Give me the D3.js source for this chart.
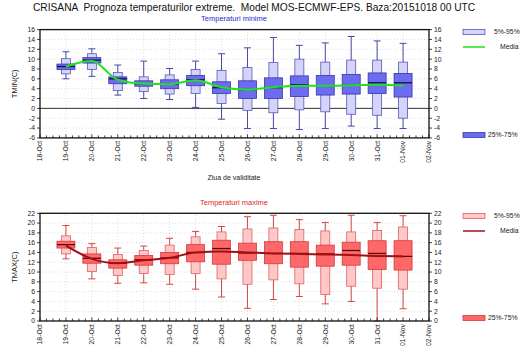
<!DOCTYPE html>
<html lang="en">
<head>
  <meta charset="UTF-8">
  <title>CRISANA</title>
  <style>
    body { margin: 0; background: #fff; }
    text { font-family: "Liberation Sans", Arial, sans-serif; }
  </style>
</head>
<body>
  <script src="https://d3js.org/d3.v7.min.js"></script>
  <script>

    const days = ['18-Oct', '19-Oct', '20-Oct', '21-Oct', '22-Oct', '23-Oct', '24-Oct', '25-Oct',
      '26-Oct', '27-Oct', '28-Oct', '29-Oct', '30-Oct', '31-Oct', '01-Nov', '02-Nov']
    const boxDays = [1, 2, 3, 4, 5, 6, 7, 8, 9, 10, 11, 12, 13, 14]

    // TMIN
    const tminLo  = [6.0, 6.5, 2.7, 2.0, 1.8, 0.2, -2.2, -4.1, -4.1, -4.3, -4.1, -3.6, -4.1, -4.1]
    const tminP5  = [7.0, 7.9, 3.6, 3.4, 2.9, 3.0, 1.0, -0.4, -0.9, -0.3, -0.7, -1.2, -1.4, -2.0]
    const tminP25 = [7.9, 9.2, 5.0, 4.5, 4.0, 4.6, 3.0, 2.0, 2.0, 2.4, 2.7, 2.9, 3.0, 2.3]
    const tminMed = [8.5, 9.8, 6.0, 5.0, 4.9, 5.8, 4.2, 3.8, 4.2, 4.8, 4.6, 4.7, 5.2, 5.2]
    const tminP75 = [9.0, 10.3, 6.4, 5.6, 5.8, 6.7, 5.4, 5.6, 6.2, 6.6, 6.7, 6.9, 7.2, 7.1]
    const tminP95 = [10.1, 11.1, 7.3, 6.4, 6.8, 7.9, 7.7, 8.3, 9.3, 10.0, 9.4, 9.8, 9.8, 9.4]
    const tminHi  = [11.5, 12.1, 8.8, 9.6, 8.1, 9.6, 11.1, 12.3, 14.4, 12.8, 13.3, 14.6, 13.7, 13.2]
    const tminMean = [8.5, 9.6, 5.8, 5.0, 4.9, 5.7, 4.3, 3.8, 4.3, 4.6, 4.6, 4.7, 4.8, 4.6]

    // TMAX
    const tmaxLo  = [12.7, 8.6, 7.7, 7.8, 7.5, 6.5, 4.9, 2.6, 4.4, 5.0, 3.5, 4.0, 0.0, 2.5]
    const tmaxP5  = [13.7, 10.1, 9.3, 9.7, 9.5, 9.7, 8.6, 7.5, 8.4, 7.6, 5.4, 7.1, 6.7, 6.5]
    const tmaxP25 = [14.9, 11.8, 10.8, 11.4, 11.7, 12.1, 11.6, 12.4, 11.7, 11.0, 11.2, 11.4, 10.5, 10.4]
    const tmaxMed = [15.6, 12.8, 11.8, 12.5, 12.9, 14.0, 14.8, 13.9, 13.8, 13.8, 13.7, 14.4, 13.8, 13.2]
    const tmaxP75 = [16.3, 13.7, 12.5, 13.4, 14.0, 15.6, 16.5, 15.9, 16.2, 16.2, 15.5, 16.1, 16.4, 16.4]
    const tmaxP95 = [17.4, 15.0, 13.6, 14.4, 15.5, 17.2, 18.2, 18.8, 19.0, 18.7, 18.4, 18.2, 18.5, 19.2]
    const tmaxHi  = [19.5, 15.8, 14.9, 15.3, 16.9, 18.3, 19.3, 21.3, 21.6, 20.7, 20.1, 21.6, 20.1, 21.5]
    const tmaxMean = [15.4, 12.7, 11.8, 12.4, 12.9, 14.0, 14.2, 14.0, 13.8, 13.7, 13.6, 13.5, 13.3, 13.2]

    const tminTicks = [-6, -4, -2, 0, 2, 4, 6, 8, 10, 12, 14, 16]
    const tmaxTicks = [0, 2, 4, 6, 8, 10, 12, 14, 16, 18, 20, 22]

    const W = 525, H = 350
    const svg = d3.select('body').append('svg')
      .attr('width', W).attr('height', H)

    svg.append('text')
      .attr('x', 33).attr('y', 11)
      .attr('font-size', 10.2)
      .attr('fill', '#111')
      .attr('xml:space', 'preserve')
      .text('CRISANA  Prognoza temperaturilor extreme.  Model MOS-ECMWF-EPS. Baza:20151018 00 UTC')

    const x = d3.scaleLinear().domain([0, 15]).range([40, 429])

    function panel(cfg) {
      const y = d3.scaleLinear().domain(cfg.domain).range(cfg.range)
      const g = svg.append('g')
      const [y0, y1] = cfg.range
      const x0 = x.range()[0], x1 = x.range()[1]

      g.append('text')
        .attr('x', 234).attr('y', cfg.titleY)
        .attr('text-anchor', 'middle')
        .attr('font-size', 7.5)
        .attr('fill', cfg.titleColor)
        .text(cfg.title)

      // grid
      g.selectAll('.gy').data(cfg.ticks).join('line')
        .attr('x1', x0).attr('x2', x1)
        .attr('y1', d => y(d)).attr('y2', d => y(d))
        .attr('stroke', '#c8c8c8').attr('stroke-width', 0.6)
        .attr('stroke-dasharray', '1,2')
      g.selectAll('.gx').data(d3.range(1, 15)).join('line')
        .attr('x1', d => x(d)).attr('x2', d => x(d))
        .attr('y1', y0).attr('y2', y1)
        .attr('stroke', '#c8c8c8').attr('stroke-width', 0.6)
        .attr('stroke-dasharray', '1,2')

      if (cfg.domain[0] < 0) {
        g.append('line')
          .attr('x1', x0).attr('x2', x1)
          .attr('y1', y(0)).attr('y2', y(0))
          .attr('stroke', '#333').attr('stroke-width', 1)
      }

      const c = cfg.colors
      const boxes = g.selectAll('.box').data(boxDays).join('g')
      // whiskers
      boxes.append('line')
        .attr('x1', d => x(d)).attr('x2', d => x(d))
        .attr('y1', (d, i) => y(cfg.lo[i])).attr('y2', (d, i) => y(cfg.hi[i]))
        .attr('stroke', c.whisker).attr('stroke-width', 1)
      boxes.append('line')
        .attr('x1', d => x(d) - 3.5).attr('x2', d => x(d) + 3.5)
        .attr('y1', (d, i) => y(cfg.lo[i])).attr('y2', (d, i) => y(cfg.lo[i]))
        .attr('stroke', c.whisker).attr('stroke-width', 1)
      boxes.append('line')
        .attr('x1', d => x(d) - 3.5).attr('x2', d => x(d) + 3.5)
        .attr('y1', (d, i) => y(cfg.hi[i])).attr('y2', (d, i) => y(cfg.hi[i]))
        .attr('stroke', c.whisker).attr('stroke-width', 1)
      // 5-95 box
      boxes.append('rect')
        .attr('x', d => x(d) - 4.5).attr('width', 9)
        .attr('y', (d, i) => y(cfg.p95[i]))
        .attr('height', (d, i) => y(cfg.p5[i]) - y(cfg.p95[i]))
        .attr('fill', c.light).attr('stroke', c.lightStroke).attr('stroke-width', 0.8)
      // 25-75 box
      boxes.append('rect')
        .attr('x', d => x(d) - 9).attr('width', 18)
        .attr('y', (d, i) => y(cfg.p75[i]))
        .attr('height', (d, i) => y(cfg.p25[i]) - y(cfg.p75[i]))
        .attr('fill', c.dark).attr('stroke', c.darkStroke).attr('stroke-width', 0.8)
      boxes.append('line')
        .attr('x1', d => x(d) - 9).attr('x2', d => x(d) + 9)
        .attr('y1', (d, i) => y(cfg.med[i])).attr('y2', (d, i) => y(cfg.med[i]))
        .attr('stroke', c.median).attr('stroke-width', 1.3)

      // mean
      const line = d3.line()
        .x((d, i) => x(boxDays[i]))
        .y(d => y(d))
        .curve(d3.curveMonotoneX)
      g.append('path')
        .attr('d', line(cfg.mean))
        .attr('fill', 'none')
        .attr('stroke', c.mean).attr('stroke-width', 2)

      // frame
      g.append('rect')
        .attr('x', x0).attr('y', y1)
        .attr('width', x1 - x0).attr('height', y0 - y1)
        .attr('fill', 'none').attr('stroke', '#111').attr('stroke-width', 1.3)

      // x ticks
      g.selectAll('.xm').data(d3.range(0, 15.01, 0.25)).join('line')
        .attr('x1', d => x(d)).attr('x2', d => x(d))
        .attr('y1', y0).attr('y2', d => y0 - (d % 1 === 0 ? 3.5 : 2.5))
        .attr('stroke', '#111').attr('stroke-width', 0.8)
      g.selectAll('.xl').data(days).join('text')
        .attr('transform', (d, i) => `translate(${x(i)},${y0 + 3}) rotate(-90)`)
        .attr('text-anchor', 'end')
        .attr('dy', '0.35em')
        .attr('font-size', 6.8)
        .attr('fill', '#222')
        .text(d => d)

      // y ticks both sides
      g.selectAll('.yl').data(cfg.ticks).join('line')
        .attr('x1', x0 - 3).attr('x2', x0)
        .attr('y1', d => y(d)).attr('y2', d => y(d))
        .attr('stroke', '#111').attr('stroke-width', 0.8)
      g.selectAll('.yr').data(cfg.ticks).join('line')
        .attr('x1', x1).attr('x2', x1 + 3)
        .attr('y1', d => y(d)).attr('y2', d => y(d))
        .attr('stroke', '#111').attr('stroke-width', 0.8)
      g.selectAll('.ylt').data(cfg.ticks).join('text')
        .attr('x', x0 - 5).attr('y', d => y(d))
        .attr('dy', '0.35em').attr('text-anchor', 'end')
        .attr('font-size', 6.8).attr('fill', '#222')
        .text(d => d)
      g.selectAll('.yrt').data(cfg.ticks).join('text')
        .attr('x', x1 + 5).attr('y', d => y(d))
        .attr('dy', '0.35em').attr('text-anchor', 'start')
        .attr('font-size', 6.8).attr('fill', '#222')
        .text(d => d)

      g.append('text')
        .attr('transform', `translate(17,${(y0 + y1) / 2}) rotate(-90)`)
        .attr('text-anchor', 'middle')
        .attr('font-size', 7.5).attr('fill', '#222')
        .text(cfg.label)

      // legend
      const lg = g.append('g')
      lg.append('rect')
        .attr('x', 463).attr('y', cfg.legY[0] - 2.5).attr('width', 22).attr('height', 5)
        .attr('fill', c.light).attr('stroke', c.lightStroke).attr('stroke-width', 0.8)
      lg.append('text')
        .attr('x', 494).attr('y', cfg.legY[0]).attr('dy', '0.35em')
        .attr('font-size', 6.8).attr('fill', '#222').text('5%-95%')
      lg.append('line')
        .attr('x1', 463).attr('x2', 485)
        .attr('y1', cfg.legY[1]).attr('y2', cfg.legY[1])
        .attr('stroke', c.mean).attr('stroke-width', 1.5)
      lg.append('text')
        .attr('x', 500).attr('y', cfg.legY[1]).attr('dy', '0.35em')
        .attr('font-size', 6.8).attr('fill', '#222').text('Media')
      lg.append('rect')
        .attr('x', 463).attr('y', cfg.legY[2] - 2.5).attr('width', 22).attr('height', 5)
        .attr('fill', c.dark).attr('stroke', c.darkStroke).attr('stroke-width', 0.8)
      lg.append('text')
        .attr('x', 488).attr('y', cfg.legY[2]).attr('dy', '0.35em')
        .attr('font-size', 6.8).attr('fill', '#222').text('25%-75%')
    }

    panel({
      domain: [-6, 16], range: [137.9, 29.6], ticks: tminTicks,
      lo: tminLo, p5: tminP5, p25: tminP25, med: tminMed, p75: tminP75, p95: tminP95, hi: tminHi, mean: tminMean,
      title: 'Temperaturi minime', titleY: 21, titleColor: '#2a2ad0', label: 'TMIN(C)',
      legY: [32, 47, 135],
      colors: { whisker: '#4848a8', light: '#d4d4fa', lightStroke: '#5858b8', dark: '#6c6cf0',
        darkStroke: '#3838a8', median: '#101040', mean: '#22e022' }
    })

    svg.append('text')
      .attr('x', 234).attr('y', 180)
      .attr('text-anchor', 'middle')
      .attr('font-size', 7)
      .attr('fill', '#222')
      .text('Ziua de validitate')

    panel({
      domain: [0, 22], range: [321, 213.3], ticks: tmaxTicks,
      lo: tmaxLo, p5: tmaxP5, p25: tmaxP25, med: tmaxMed, p75: tmaxP75, p95: tmaxP95, hi: tmaxHi, mean: tmaxMean,
      title: 'Temperaturi maxime', titleY: 205, titleColor: '#e02828', label: 'TMAX(C)',
      legY: [216, 231, 318],
      colors: { whisker: '#d04848', light: '#ffc8c8', lightStroke: '#e06060', dark: '#ff6868',
        darkStroke: '#d03c3c', median: '#600000', mean: '#a01018' }
    })

  </script>
</body>
</html>
